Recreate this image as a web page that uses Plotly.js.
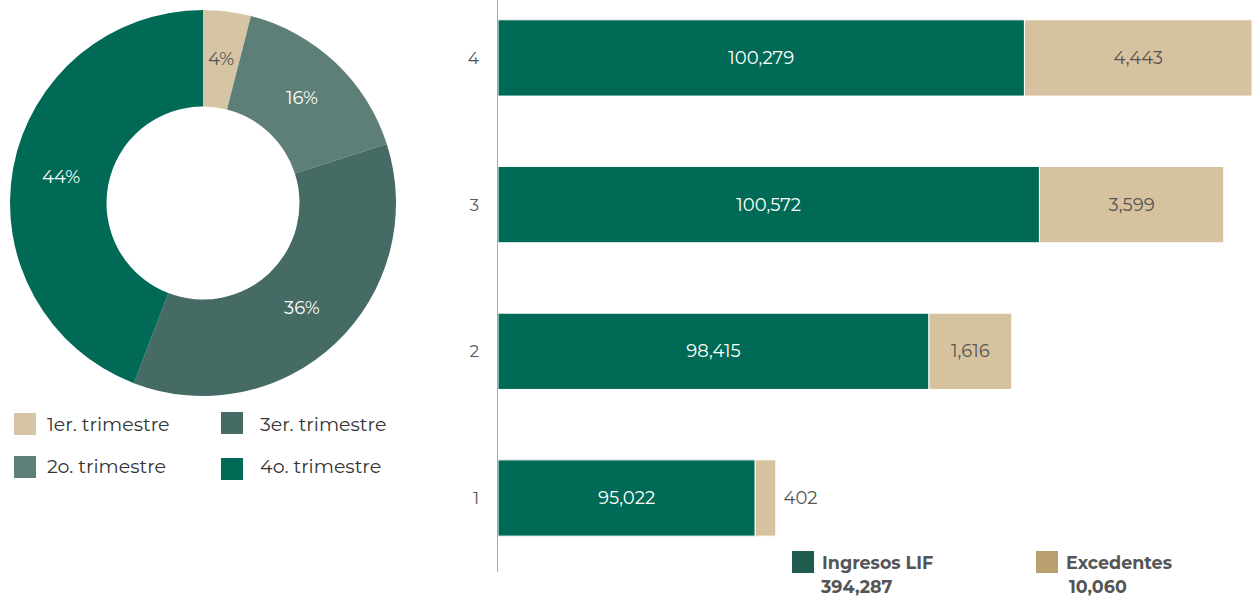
<!DOCTYPE html>
<html><head><meta charset="utf-8">
<script src="https://cdn.plot.ly/plotly-3.0.1.min.js"></script>
<style>html,body{margin:0;padding:0;background:#fff;}#chart{width:1253px;height:596px;}</style>
</head><body><div id="chart"></div>
<script>
const quarters = ['1', '2', '3', '4'];
const quarterNames = ['1er. trimestre', '2o. trimestre', '3er. trimestre', '4o. trimestre'];
const ingresosLIF = [95022, 98415, 100572, 100279];
const excedentes = [402, 1616, 3599, 4443];
const totalIngresos = '394,287';
const totalExcedentes = '10,060';
const axisStart = 90000;
const pieColors = ['#d6c5a4', '#5e7f77', '#456b64', '#006a56'];
const pieTextColors = ['#555555', '#ffffff', '#ffffff', '#ffffff'];
const excTextPos = ['outside', 'inside', 'inside', 'inside'];

const W = 1253, H = 596;
const FONT = 'Montserrat, "Open Sans", "Noto Sans", sans-serif';
const fmt = v => v.toLocaleString('en-US');

// donut geometry (pixels)
const pieX0 = 10, pieX1 = 396, pieY0 = 10, pieY1 = 396, holeFrac = 0.5;

const pie = {
  type: 'pie', values: excedentes, labels: quarterNames, sort: false,
  direction: 'clockwise', rotation: 0, hole: holeFrac,
  marker: {colors: pieColors, line: {width: 0}},
  textinfo: 'none',
  domain: {x: [pieX0/W, pieX1/W], y: [1 - pieY1/H, 1 - pieY0/H]},
  showlegend: false, hoverinfo: 'label+percent'
};

const barIng = {
  type: 'bar', orientation: 'h', y: quarters,
  base: ingresosLIF.map(() => axisStart), x: ingresosLIF.map(v => v - axisStart),
  name: 'Ingresos LIF', marker: {color: '#006a56', line: {color: '#ffffff', width: 1}},
  text: ingresosLIF.map(fmt), textposition: 'inside', insidetextanchor: 'middle',
  textfont: {family: FONT, size: 18, color: '#ffffff'}, width: 0.52,
  showlegend: false, cliponaxis: false, constraintext: 'none'
};
const barExc = {
  type: 'bar', orientation: 'h', y: quarters, x: excedentes, base: ingresosLIF,
  name: 'Excedentes', marker: {color: '#d6c29e', line: {color: '#ffffff', width: 1}},
  text: excedentes.map((v, i) => (excTextPos[i] === 'outside' ? '\u00a0' : '') + fmt(v)),
  textposition: excTextPos,
  insidetextanchor: 'middle',
  insidetextfont: {family: FONT, size: 18, color: '#555555'},
  outsidetextfont: {family: FONT, size: 18, color: '#555555'},
  width: 0.52, showlegend: false, cliponaxis: false, constraintext: 'none'
};

const shapes = [];
const annotations = [];

// donut percentage labels at mid-ring, computed from the values
const total = excedentes.reduce((a, b) => a + b, 0);
const cx = (pieX0 + pieX1) / 2, cy = (pieY0 + pieY1) / 2;
const rOut = (pieX1 - pieX0) / 2, rMid = rOut * (1 + holeFrac) / 2;
let cum = 0;
excedentes.forEach((v, i) => {
  const a = (cum + v / 2) / total * 2 * Math.PI;
  cum += v;
  const px = cx + rMid * Math.sin(a), py = cy - rMid * Math.cos(a);
  annotations.push({xref: 'paper', yref: 'paper', x: px / W, y: 1 - py / H,
    xanchor: 'center', yanchor: 'middle', showarrow: false,
    text: Math.round(v / total * 100) + '%',
    font: {family: FONT, size: 18, color: pieTextColors[i]}});
});

const legendItems = [
  {name: quarterNames[0], color: pieColors[0], x: 14, sy: 424, y: 424, tx: 45},
  {name: quarterNames[1], color: pieColors[1], x: 14, sy: 467, y: 467, tx: 45},
  {name: quarterNames[2], color: pieColors[2], x: 221, sy: 423, y: 424, tx: 258},
  {name: quarterNames[3], color: pieColors[3], x: 221, sy: 469, y: 467, tx: 258}
];
legendItems.forEach(it => {
  shapes.push({type: 'rect', xref: 'paper', yref: 'paper',
    x0: it.x/W, x1: (it.x + 22)/W, y0: 1 - (it.sy + 11)/H, y1: 1 - (it.sy - 11)/H,
    fillcolor: it.color, line: {width: 0}});
  annotations.push({xref: 'paper', yref: 'paper', x: it.tx/W, y: 1 - it.y/H,
    xanchor: 'left', yanchor: 'middle', showarrow: false, text: it.name,
    font: {family: FONT, size: 19, color: '#333333'}});
});
const barLegend = [
  {name: 'Ingresos LIF', total: totalIngresos, color: '#1f5c4f', x: 792, tx: 818},
  {name: 'Excedentes', total: totalExcedentes, color: '#b9a16f', x: 1036, tx: 1067}
];
barLegend.forEach(it => {
  shapes.push({type: 'rect', xref: 'paper', yref: 'paper',
    x0: it.x/W, x1: (it.x + 22)/W, y0: 1 - 573/H, y1: 1 - 551/H,
    fillcolor: it.color, line: {width: 0}});
  annotations.push({xref: 'paper', yref: 'paper', x: (it.x + 28)/W, y: 1 - 562/H,
    xanchor: 'left', yanchor: 'middle', showarrow: false, text: '<b>' + it.name + '</b>',
    font: {family: FONT, size: 17.5, color: '#555555'}});
  annotations.push({xref: 'paper', yref: 'paper', x: it.tx/W, y: 1 - 586/H,
    xanchor: 'left', yanchor: 'middle', showarrow: false, text: '<b>' + it.total + '</b>',
    font: {family: FONT, size: 17.5, color: '#555555'}});
});

const layout = {
  width: W, height: H, margin: {l: 0, r: 0, t: 0, b: 0},
  paper_bgcolor: '#ffffff', plot_bgcolor: 'rgba(0,0,0,0)',
  barmode: 'overlay',
  xaxis: {domain: [498/W, 1252/W], range: [axisStart, 104722], visible: false, fixedrange: true},
  yaxis: {domain: [1 - 572/H, 1], type: 'category', range: [-0.5045, 3.395],
    showline: true, linecolor: '#aaaaaa', linewidth: 1.5, showgrid: false, zeroline: false,
    ticks: '', ticklabelstandoff: 14,
    tickfont: {family: FONT, size: 17, color: '#555555'}},
  shapes: shapes, annotations: annotations,
  font: {family: FONT}
};

Plotly.newPlot('chart', [pie, barIng, barExc], layout, {displayModeBar: false, staticPlot: true});
</script></body></html>
